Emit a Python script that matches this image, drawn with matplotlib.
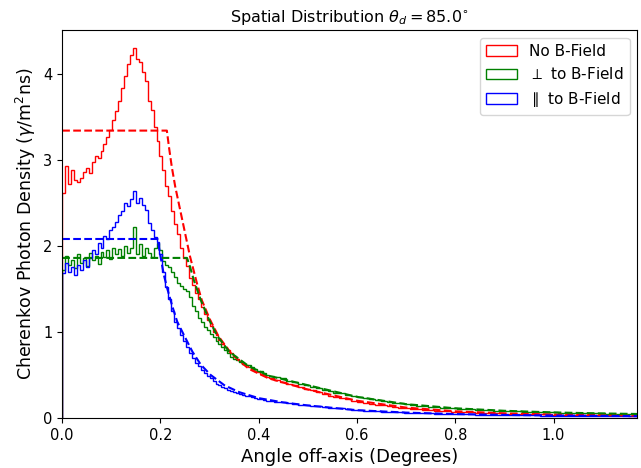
import numpy as np
from matplotlib import pyplot as plt

# Histogram heights: first 70 bins are 0.006 wide, the rest 0.012 wide
N_FINE = 70

red_vals = [2.62, 2.93, 2.72, 2.88, 2.76, 2.74, 2.79, 2.86, 2.90, 2.85,
            2.97, 3.04, 3.02, 3.10, 3.18, 3.27, 3.35, 3.46, 3.57, 3.68,
            3.84, 3.98, 4.12, 4.22, 4.30, 4.17, 4.14, 4.02, 3.92, 3.68,
            3.58, 3.38, 3.22, 3.05, 2.88, 2.70, 2.58, 2.40, 2.26, 2.14,
            1.97, 1.86, 1.77, 1.63, 1.55, 1.45, 1.38, 1.29, 1.21, 1.14,
            1.07, 1.00, 0.96, 0.91, 0.86, 0.82, 0.79, 0.75, 0.72, 0.69,
            0.66, 0.63, 0.61, 0.59, 0.57, 0.55, 0.53, 0.51, 0.50, 0.48,
            0.46, 0.44, 0.42, 0.40, 0.38, 0.36, 0.34, 0.32, 0.30, 0.28,
            0.26, 0.245, 0.23, 0.215, 0.20, 0.185, 0.175, 0.165, 0.155, 0.145,
            0.135, 0.127, 0.12, 0.113, 0.107, 0.101, 0.096, 0.091, 0.086, 0.082,
            0.078, 0.074, 0.071, 0.068, 0.065, 0.062, 0.060, 0.057, 0.055, 0.053,
            0.051, 0.049, 0.047, 0.046, 0.044, 0.043, 0.041, 0.040, 0.039, 0.038,
            0.037, 0.036, 0.035, 0.034, 0.033, 0.032, 0.031, 0.031, 0.030, 0.029,
            0.029, 0.028, 0.028]

green_vals = [1.72, 1.88, 1.78, 1.84, 1.74, 1.90, 1.80, 1.86, 1.77, 1.92,
              1.83, 1.88, 1.79, 1.93, 1.87, 1.95, 1.85, 1.98, 1.90, 1.96,
              1.88, 2.00, 1.92, 1.97, 2.22, 1.90, 2.02, 1.88, 1.98, 1.92,
              1.87, 1.97, 2.03, 1.95, 1.82, 1.78, 1.76, 1.70, 1.64, 1.57,
              1.53, 1.50, 1.47, 1.41, 1.30, 1.24, 1.16, 1.12, 1.06, 1.02,
              0.98, 0.94, 0.90, 0.86, 0.82, 0.79, 0.75, 0.71, 0.69, 0.67,
              0.65, 0.63, 0.62, 0.61, 0.59, 0.57, 0.55, 0.54, 0.52, 0.50,
              0.49, 0.47, 0.46, 0.43, 0.42, 0.40, 0.385, 0.36, 0.35, 0.33,
              0.315, 0.295, 0.285, 0.265, 0.255, 0.24, 0.232, 0.215, 0.208, 0.195,
              0.188, 0.175, 0.168, 0.158, 0.152, 0.143, 0.139, 0.131, 0.127, 0.12,
              0.117, 0.11, 0.108, 0.102, 0.099, 0.094, 0.092, 0.088, 0.086, 0.082,
              0.080, 0.077, 0.076, 0.072, 0.071, 0.068, 0.067, 0.064, 0.064, 0.061,
              0.061, 0.058, 0.058, 0.055, 0.055, 0.053, 0.053, 0.051, 0.051, 0.049,
              0.049, 0.047, 0.047]

blue_vals = [1.68, 1.80, 1.70, 1.76, 1.66, 1.78, 1.72, 1.84, 1.75, 1.86,
             1.95, 1.90, 2.03, 1.98, 2.12, 2.08, 2.18, 2.22, 2.28, 2.36,
             2.40, 2.50, 2.46, 2.55, 2.64, 2.50, 2.56, 2.48, 2.42, 2.27,
             2.18, 2.10, 2.05, 1.90, 1.70, 1.52, 1.38, 1.24, 1.12, 1.04,
             0.96, 0.90, 0.83, 0.75, 0.70, 0.64, 0.60, 0.56, 0.52, 0.49,
             0.46, 0.43, 0.40, 0.38, 0.36, 0.35, 0.33, 0.315, 0.30, 0.29,
             0.28, 0.265, 0.255, 0.25, 0.24, 0.23, 0.225, 0.215, 0.21, 0.20,
             0.195, 0.185, 0.18, 0.17, 0.165, 0.155, 0.15, 0.14, 0.135, 0.125,
             0.12, 0.115, 0.11, 0.10, 0.095, 0.09, 0.085, 0.08, 0.078, 0.074,
             0.07, 0.067, 0.064, 0.061, 0.058, 0.056, 0.054, 0.052, 0.05, 0.048,
             0.046, 0.044, 0.043, 0.041, 0.04, 0.039, 0.037, 0.036, 0.035, 0.034,
             0.033, 0.032, 0.031, 0.030, 0.030, 0.029, 0.028, 0.028, 0.027, 0.026,
             0.026, 0.025, 0.025, 0.024, 0.024, 0.023, 0.023, 0.022, 0.022, 0.022,
             0.021, 0.021, 0.021]

# Model curves (dashed)
red_model_x = [0.0, 0.213, 0.218, 0.223, 0.23, 0.24, 0.25, 0.26, 0.274, 0.284,
               0.301, 0.318, 0.345, 0.38, 0.42, 0.5, 0.6, 0.7, 0.8, 0.9, 1.0, 1.1, 1.17]
red_model_y = [3.34, 3.34, 3.12, 2.92, 2.69, 2.42, 2.15, 1.88, 1.57, 1.37,
               1.14, 0.95, 0.74, 0.57, 0.46, 0.33, 0.20, 0.12, 0.077, 0.053, 0.04, 0.032, 0.028]
green_model_x = [0.0, 0.254, 0.26, 0.268, 0.282, 0.299, 0.316, 0.34, 0.38, 0.42,
                 0.5, 0.6, 0.7, 0.8, 0.9, 1.0, 1.1, 1.17]
green_model_y = [1.86, 1.86, 1.76, 1.60, 1.37, 1.14, 0.95, 0.77, 0.60, 0.49,
                 0.38, 0.245, 0.16, 0.112, 0.083, 0.064, 0.052, 0.046]
blue_model_x = [0.0, 0.194, 0.2, 0.207, 0.214, 0.224, 0.234, 0.248, 0.265, 0.282,
                0.302, 0.33, 0.36, 0.4, 0.45, 0.5, 0.6, 0.7, 0.8, 0.9, 1.0, 1.1, 1.17]
blue_model_y = [2.08, 2.08, 1.88, 1.66, 1.50, 1.30, 1.12, 0.96, 0.77, 0.62,
                0.50, 0.38, 0.30, 0.23, 0.18, 0.145, 0.09, 0.062, 0.045, 0.035, 0.028, 0.023, 0.021]


def bin_edges(n):
    fine = 0.006 * np.arange(N_FINE + 1)
    coarse = fine[-1] + 0.012 * np.arange(1, n - N_FINE + 1)
    return np.concatenate([fine, coarse])


fig, ax = plt.subplots(figsize=(6.41, 4.68), dpi=100)
fig.subplots_adjust(left=0.097, right=0.994, bottom=0.107, top=0.936)

series = [(red_vals, 'red', 'No B-Field'),
          (green_vals, 'green', r'$\perp$ to B-Field'),
          (blue_vals, 'blue', r'$\parallel$ to B-Field')]
for vals, col, lab in series:
    edges = bin_edges(len(vals))
    ax.hist(edges[:-1], bins=edges, weights=vals, histtype='step',
            color=col, label=lab, linewidth=1.0)

ax.plot(red_model_x, red_model_y, '--', color='red', linewidth=1.5)
ax.plot(green_model_x, green_model_y, '--', color='green', linewidth=1.5)
ax.plot(blue_model_x, blue_model_y, '--', color='blue', linewidth=1.5)

ax.set_xlim(0, 1.17)
ax.set_ylim(0, 4.51)
ax.tick_params(labelsize=10.5)
ax.set_xlabel("Angle off-axis (Degrees)", fontsize=13)
ax.set_ylabel(r"Cherenkov Photon Density ($\gamma$/m$^2$ns)", fontsize=12.5)
ax.set_title(r"Spatial Distribution $\theta_d = 85.0^{\circ}$", fontsize=11.5)
ax.legend(loc='upper right', fontsize=11)

plt.savefig("out.png")
